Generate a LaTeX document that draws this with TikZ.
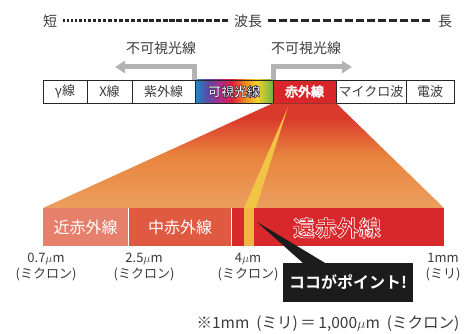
\documentclass[tikz,border=0pt]{standalone}
\usepackage{fontspec}
\setmainfont{Noto Sans CJK JP}[BoldFont={Noto Sans CJK JP Bold}]
\usepackage{xcolor}
\usetikzlibrary{arrows.meta,positioning,calc}
\definecolor{txtgray}{HTML}{3A3A3A}
\definecolor{linegray}{HTML}{262626}
\definecolor{arrgray}{HTML}{B3B3B3}
\definecolor{irred}{HTML}{D8262B}
\definecolor{nearir}{HTML}{E6806A}
\definecolor{midir}{HTML}{E05A42}
\definecolor{farir}{HTML}{D8282C}
\definecolor{traptop}{HTML}{DA3A2C}
\definecolor{trapmid}{HTML}{E8843E}
\definecolor{trapbot}{HTML}{EB9E5E}
\definecolor{pointyel}{HTML}{F0B448}
\definecolor{wedgeyel}{HTML}{F2C446}
\definecolor{calloutblk}{HTML}{1C1C1C}
\definecolor{rbA}{HTML}{1E8CC8}
\definecolor{rbB}{HTML}{5A4AA8}
\definecolor{rbC}{HTML}{B02A8A}
\definecolor{rbD}{HTML}{E0203C}
\definecolor{rbE}{HTML}{F08A20}
\definecolor{rbF}{HTML}{F2D22A}
\definecolor{rbG}{HTML}{6AB444}
\pgfdeclarehorizontalshading{rainbow}{100bp}{color(0bp)=(rbA); color(25bp)=(rbA);
  color(33bp)=(rbB); color(41bp)=(rbC); color(49bp)=(rbD); color(57bp)=(rbE);
  color(65bp)=(rbF); color(75bp)=(rbG); color(100bp)=(rbG)}
\pgfdeclareverticalshading{irzoom}{100bp}{color(0bp)=(trapbot); color(25bp)=(trapbot);
  color(50bp)=(trapmid); color(68bp)=(traptop); color(75bp)=(traptop); color(100bp)=(traptop)}
% filled text with a stroked outline (fill colour, stroke rgb, stroke width, text)
\newcommand{\outlinetext}[4]{{\color{#1}\special{pdf:literal #2 RG #3 w 1 j 2 Tr}#4\special{pdf:literal 0 Tr}}}

\begin{document}
\begin{tikzpicture}[
  x=1pt,y=-1pt,
  cell/.style={draw=linegray,line width=0.8pt,minimum height=23pt,inner sep=0pt,text=txtgray,font=\fontsize{13pt}{15pt}\selectfont},
  band/.style={minimum height=38pt,inner sep=0pt,text=white,font=\fontsize{16pt}{18pt}\selectfont},
  toplabel/.style={text=txtgray,inner sep=0pt,font=\fontsize{14pt}{16pt}\selectfont},
  unitlabel/.style={align=center,text=txtgray,inner sep=0pt,font=\fontsize{13pt}{16pt}\selectfont},
  grayarrow/.style={draw=arrgray,line width=5pt,-{Triangle[width=12pt,length=10pt]}},
  callout/.style={fill=calloutblk,text=white,minimum width=130pt,minimum height=39pt,inner sep=0pt,font=\bfseries\fontsize{16pt}{18pt}\selectfont}
]
\useasboundingbox (0,0) rectangle (476,334);

% wavelength axis
\node[toplabel] (short) at (50,21)  {短};
\node[toplabel] (wave)  at (248,21) {波長};
\node[toplabel] (long)  at (445,21) {長};
\foreach \i in {0,...,27}
  \draw[linegray,line width=3pt] ({63+3.8*\i+0.08*\i*(\i-1)},21) -- ++({2+0.16*\i},0);
\draw[linegray,line width=3pt,dash pattern=on 8pt off 3pt] (wave.east) ++(6,0) -- ($(long.west)+(-6,0)$);

% spectrum cells
\node[cell,minimum width=44pt] (gamma) at (65,91.5)    {\textit{γ}線};
\node[cell,minimum width=45pt] (xray)  at (109.5,91.5) {X線};
\node[cell,minimum width=63pt] (uv)    at (163.5,91.5) {紫外線};
\node[cell,minimum width=78pt,shading=rainbow,font=\bfseries\fontsize{13pt}{15pt}\selectfont] (vis) at (234,91.5) {\outlinetext{white}{0.1 0.1 0.2}{0.45}{可視光線}};
\node[cell,minimum width=63pt,fill=irred] (ir) at (304.5,91.5) {\outlinetext{irred}{1 1 1}{0.7}{赤外線}};
\node[cell,minimum width=70pt] (micro) at (371,91.5) {マイクロ波};
\node[cell,minimum width=48pt] (radio) at (430,91.5) {電波};

% invisible light arrows
\coordinate (uvend) at (115,67);
\coordinate (irend) at (352,67);
\draw[grayarrow] (vis.north west) |- (uvend);
\draw[grayarrow] (vis.north east) |- (irend);
\node[toplabel] (invl) at (161,48) {不可視光線};
\node[toplabel] (invr) at (306,48) {不可視光線};

% zoom of infrared
\shade[shading=irzoom] (ir.south west) -- (ir.south east) -- (444,208) -- (43,208) -- cycle;
\fill[wedgeyel] (288,107) -- (256,208) -- (244,208) -- cycle;

\node[band,minimum width=85pt,fill=nearir]  (near) at (85.5,227) {近赤外線};
\node[band,minimum width=102pt,fill=midir]  (mid)  at (180,227)  {中赤外線};
\node[band,minimum width=212pt,fill=farir] (far) at (338,227) {};
\fill[pointyel] (244,208) rectangle (254,246);
\node[inner sep=0pt,font=\bfseries\fontsize{22pt}{24pt}\selectfont] (farlbl) at (337,228) {\outlinetext{farir}{1 1 1}{0.6}{遠赤外線}};

% boundary values
\node[unitlabel] (l07) at (46,267)  {0.7$\mu$m\\(ミクロン)};
\node[unitlabel] (l25) at (144,267) {2.5$\mu$m\\(ミクロン)};
\node[unitlabel] (l4)  at (248,267) {4$\mu$m\\(ミクロン)};
\node[unitlabel] (l1m) at (443,267) {1mm\\(ミリ)};

% callout
\node[callout] (point) at (348,282.5) {ココがポイント!};
\coordinate (ptip) at (257,222);
\fill[calloutblk] (ptip) -- ($(point.north west)+(20,0)$) -- ($(point.north west)+(42,0)$) -- cycle;

\node[toplabel,font=\fontsize{15.5pt}{17pt}\selectfont] (note) at (328,324) {※1mm\ \ (ミリ)\,＝\,1,000$\mu$m\ \ (ミクロン)};
\end{tikzpicture}
\end{document}
